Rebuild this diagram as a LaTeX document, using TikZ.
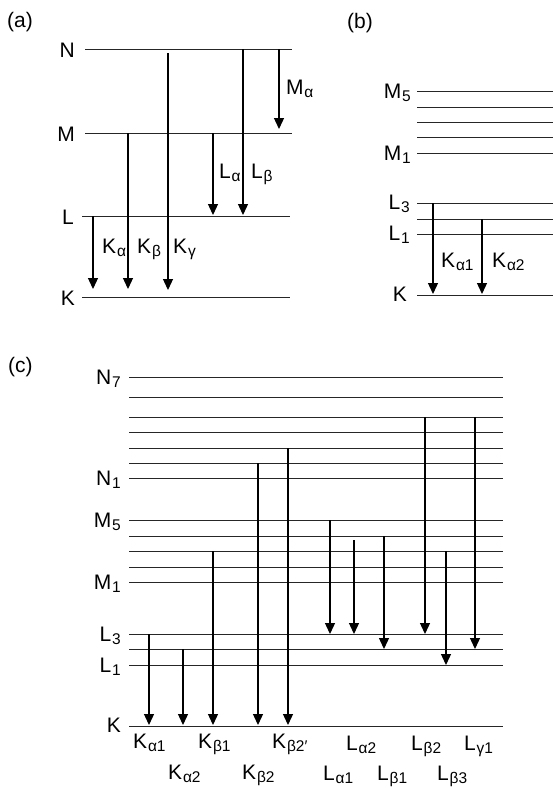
\documentclass[tikz,border=0pt]{standalone}
\usepackage{fontspec}
\setmainfont{Liberation Sans}
\usetikzlibrary{arrows.meta}

% subscript of a line or level name
\newcommand\sbs[1]{\kern0.8pt\raisebox{-3.5pt}{\fontsize{15.5}{16}\selectfont #1}}

\tikzset{
  level/.style={black!85, line width=1pt},
  trans/.style={-{Triangle[length=11pt,width=10pt]}, line width=1.3pt},
  lvlname/.style={anchor=base east, inner sep=0pt, font=\fontsize{21}{23}\selectfont},
  linename/.style={anchor=base west, inner sep=0pt, font=\fontsize{21}{23}\selectfont},
}

\begin{document}
\begin{tikzpicture}[x=1pt, y=-1pt]
    \useasboundingbox (0,0) rectangle (553,788);

    % Panel letters
    \node[linename] (pa) at (7,27) {(a)};
    \node[linename] (pb) at (347,28) {(b)};
    \node[linename] (pc) at (8,372) {(c)};

    % (a) Niveles
    \draw[level] (85,49) -- (292,49);
    \draw[level] (85,133) -- (292,133);
    \draw[level] (82,216) -- (290,216);
    \draw[level] (82,297) -- (290,297);
    \node[lvlname] (aN) at (75,57) {N};
    \node[lvlname] (aM) at (75,141) {M};
    \node[lvlname] (aL) at (74,224) {L};
    \node[lvlname] (aK) at (75,305) {K};

    % (a) Transiciones
    \draw[trans] (93,216) -- (93,289);
    \draw[trans] (128,133) -- (128,289);
    \draw[trans] (168,53) -- (168,290);
    \draw[trans] (213,133) -- (213,215);
    \draw[trans] (243,49) -- (243,215);
    \draw[trans] (279,49) -- (279,129);
    \node[linename] (aKa) at (102,253) {K\sbs{α}};
    \node[linename] (aKb) at (137,253) {K\sbs{β}};
    \node[linename] (aKg) at (173,253) {K\sbs{γ}};
    \node[linename] (aLa) at (219,178) {L\sbs{α}};
    \node[linename] (aLb) at (251,178) {L\sbs{β}};
    \node[linename] (aMa) at (286,94) {M\sbs{α}};

    % (b) Niveles
    \foreach \y in {91,107,122,137,153,203,219,234,295}
        \draw[level] (417,\y) -- (553,\y);
    \node[lvlname] (bM5) at (411,98) {M\sbs{5}};
    \node[lvlname] (bM1) at (411,160) {M\sbs{1}};
    \node[lvlname] (bL3) at (410,209) {L\sbs{3}};
    \node[lvlname] (bL1) at (410,240) {L\sbs{1}};
    \node[lvlname] (bK) at (407,301) {K};

    % (b) Transiciones
    \draw[trans] (433,203) -- (433,294);
    \draw[trans] (482,219) -- (482,294);
    \node[linename] (bKa1) at (441,267) {K\sbs{α1}};
    \node[linename] (bKa2) at (492,267) {K\sbs{α2}};

    % (c) Niveles: N7..N1, M5..M1, L3..L1, K
    \foreach \y in {377,397,417,432,448,463,478,520,536,551,567,582,634,649,665,726}
        \draw[level] (129,\y) -- (503,\y);
    \node[lvlname] (cN7) at (121,384) {N\sbs{7}};
    \node[lvlname] (cN1) at (121,485) {N\sbs{1}};
    \node[lvlname] (cM5) at (121,527) {M\sbs{5}};
    \node[lvlname] (cM1) at (121,589) {M\sbs{1}};
    \node[lvlname] (cL3) at (121,641) {L\sbs{3}};
    \node[lvlname] (cL1) at (121,672) {L\sbs{1}};
    \node[lvlname] (cK) at (121,732) {K};

    % (c) Transiciones K
    \draw[trans] (149,634) -- (149,725);
    \draw[trans] (183,649) -- (183,725);
    \draw[trans] (213,551) -- (213,725);
    \draw[trans] (258,463) -- (258,725);
    \draw[trans] (288,448) -- (288,725);
    % (c) Transiciones L
    \draw[trans] (330,520) -- (330,634);
    \draw[trans] (354,540) -- (354,634);
    \draw[trans] (384,536) -- (384,649);
    \draw[trans] (425,417) -- (425,634);
    \draw[trans] (446,551) -- (446,665);
    \draw[trans] (475,417) -- (475,649);

    % (c) Nombres de las lineas
    \node[linename] (cKa1) at (133,748) {K\sbs{α1}};
    \node[linename] (cKa2) at (168,779) {K\sbs{α2}};
    \node[linename] (cKb1) at (198,748) {K\sbs{β1}};
    \node[linename] (cKb2) at (242,779) {K\sbs{β2}};
    \node[linename] (cKb2p) at (272,748) {K\sbs{β2′}};
    \node[linename] (cLa1) at (323,780) {L\sbs{α1}};
    \node[linename] (cLa2) at (346,750) {L\sbs{α2}};
    \node[linename] (cLb1) at (377,780) {L\sbs{β1}};
    \node[linename] (cLb2) at (411,750) {L\sbs{β2}};
    \node[linename] (cLb3) at (437,780) {L\sbs{β3}};
    \node[linename] (cLg1) at (464,750) {L\sbs{γ1}};
\end{tikzpicture}
\end{document}
